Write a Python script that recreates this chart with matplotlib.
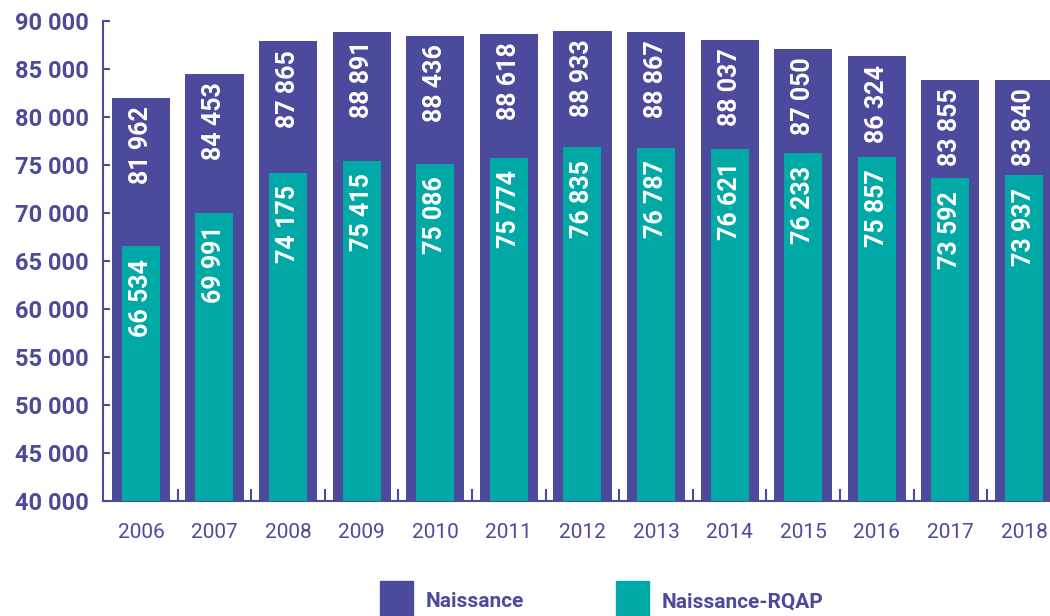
import matplotlib
matplotlib.use("Agg")
import matplotlib.pyplot as plt
from matplotlib.ticker import FuncFormatter, FixedLocator
from matplotlib.patches import Patch

# data
years = ["2006", "2007", "2008", "2009", "2010", "2011", "2012",
         "2013", "2014", "2015", "2016", "2017", "2018"]
naissance = [81962, 84453, 87865, 88891, 88436, 88618, 88933,
             88867, 88037, 87050, 86324, 83855, 83840]
rqap = [66534, 69991, 74175, 75415, 75086, 75774, 76835,
        76787, 76621, 76233, 75857, 73592, 73937]

purple = "#4B4A9C"
teal = "#00A9A5"

plt.rcParams['font.family'] = ['Roboto', 'DejaVu Sans']

def fmt(v):
    return f"{int(v):,}".replace(",", " ")

fig = plt.figure(figsize=(10.5, 6.16), dpi=100)
ax = fig.add_axes([0.098, 0.1867, 0.902, 0.7793])

x = list(range(len(years)))
ax.bar(x, naissance, width=0.79, color=purple, zorder=2)
ax.bar(x, rqap, width=0.516, color=teal, zorder=3)

for i in x:
    ax.annotate(fmt(naissance[i]), (i, naissance[i]), xytext=(0, -6),
                textcoords="offset points", rotation=90, ha="center", va="top",
                color="white", fontsize=18, fontweight="bold", zorder=4)
    ax.annotate(fmt(rqap[i]), (i, rqap[i]), xytext=(0, -9),
                textcoords="offset points", rotation=90, ha="center", va="top",
                color="white", fontsize=18, fontweight="bold", zorder=4)

ax.set_ylim(40000, 90000)
ax.set_xlim(-0.516, 12.353)
ax.set_yticks(range(40000, 90001, 5000))
ax.yaxis.set_major_formatter(FuncFormatter(lambda v, p: fmt(v)))
ax.set_xticks(x)
ax.set_xticklabels(years)
ax.xaxis.set_minor_locator(FixedLocator([i + 0.5 for i in x[:-1]]))

for s in ["top", "right"]:
    ax.spines[s].set_visible(False)
for s in ["left", "bottom"]:
    ax.spines[s].set_color(purple)
    ax.spines[s].set_linewidth(1.5)

ax.tick_params(axis="y", direction="in", length=5, width=1.5, color=purple,
               labelcolor=purple, labelsize=17, pad=10)
for t in ax.get_yticklabels():
    t.set_fontweight("bold")
ax.tick_params(axis="x", which="major", length=0, labelcolor=purple,
               labelsize=15, pad=16)
ax.tick_params(axis="x", which="minor", direction="in", length=8.5, width=1.5,
               color=purple)

handles = [Patch(color=purple, label="Naissance"),
           Patch(color=teal, label="Naissance-RQAP")]
leg = fig.legend(handles=handles, loc="upper left", bbox_to_anchor=(0.362, 0.057),
                 ncol=2, frameon=False, fontsize=15, handlelength=1.6,
                 handleheight=2.6, handletextpad=0.6, columnspacing=4.4,
                 borderpad=0, borderaxespad=0)
for t in leg.get_texts():
    t.set_color(purple)
    t.set_fontweight("bold")

plt.savefig("out.png", dpi=100)
